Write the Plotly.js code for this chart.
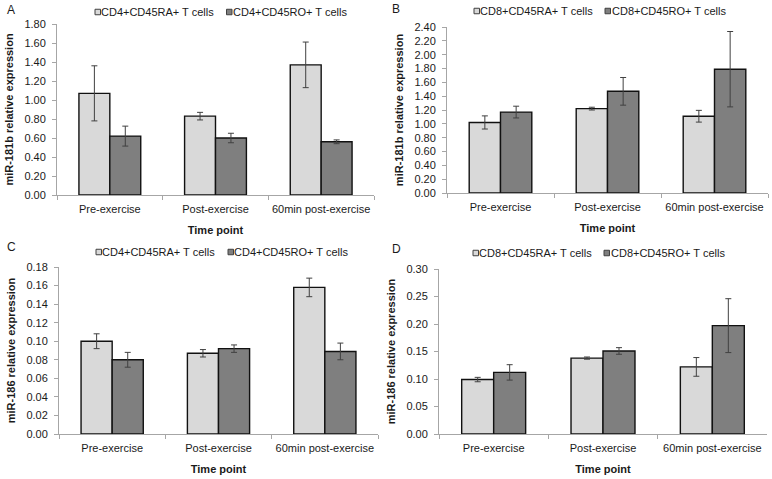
<!DOCTYPE html>
<html>
<head>
<meta charset="utf-8">
<script src="https://cdn.plot.ly/plotly-3.0.1.min.js"></script>
<style>html,body{margin:0;padding:0;background:#fff;}#chart{width:772px;height:479px;}</style>
</head>
<body>
<div id="chart"></div>
<script>
// ---- data ----
const timePoints = ["Pre-exercise", "Post-exercise", "60min post-exercise"];

// Panel A: miR-181b, CD4
const A_RA = [1.07, 0.83, 1.37];
const A_RA_err = [0.29, 0.04, 0.24];
const A_RO = [0.62, 0.60, 0.56];
const A_RO_err = [0.105, 0.05, 0.02];

// Panel B: miR-181b, CD8
const B_RA = [1.02, 1.22, 1.11];
const B_RA_err = [0.095, 0.02, 0.085];
const B_RO = [1.17, 1.47, 1.79];
const B_RO_err = [0.085, 0.20, 0.545];

// Panel C: miR-186, CD4
const C_RA = [0.100, 0.087, 0.158];
const C_RA_err = [0.008, 0.004, 0.010];
const C_RO = [0.080, 0.092, 0.089];
const C_RO_err = [0.008, 0.004, 0.009];

// Panel D: miR-186, CD8
const D_RA = [0.099, 0.138, 0.122];
const D_RA_err = [0.004, 0.002, 0.017];
const D_RO = [0.112, 0.151, 0.197];
const D_RO_err = [0.014, 0.006, 0.049];

const names = {
  cd4ra: "CD4+CD45RA+ T cells", cd4ro: "CD4+CD45RO+ T cells",
  cd8ra: "CD8+CD45RA+ T cells", cd8ro: "CD8+CD45RO+ T cells"
};

// ---- styling ----
const W = 772, H = 479;
const FONT = "Liberation Sans, Arial, sans-serif";
const TXT = "#1a1a1a";
const lightFill = "#d9d9d9", darkFill = "#7f7f7f";
const errColor = "#404040";

function bar(x, y, err, name, fill, xa, ya) {
  return {
    type: "bar", x: x, y: y, name: name, xaxis: xa, yaxis: ya, showlegend: false,
    marker: {color: fill, line: {color: "#111111", width: 1.4}},
    error_y: {type: "data", array: err, visible: true, color: errColor, thickness: 1, width: 3},
    hoverinfo: "x+y+name"
  };
}

const data = [
  bar(timePoints, A_RA, A_RA_err, names.cd4ra, lightFill, "x", "y"),
  bar(timePoints, A_RO, A_RO_err, names.cd4ro, darkFill, "x", "y"),
  bar(timePoints, B_RA, B_RA_err, names.cd8ra, lightFill, "x2", "y2"),
  bar(timePoints, B_RO, B_RO_err, names.cd8ro, darkFill, "x2", "y2"),
  bar(timePoints, C_RA, C_RA_err, names.cd4ra, lightFill, "x3", "y3"),
  bar(timePoints, C_RO, C_RO_err, names.cd4ro, darkFill, "x3", "y3"),
  bar(timePoints, D_RA, D_RA_err, names.cd8ra, lightFill, "x4", "y4"),
  bar(timePoints, D_RO, D_RO_err, names.cd8ro, darkFill, "x4", "y4")
];

// pixel boxes of plot areas: [left, right, bottom(zero), top]
const boxes = {
  A: [57, 374, 195, 24],
  B: [447, 768, 193, 27],
  C: [59, 378, 434, 267],
  D: [439, 767, 434, 269]
};
function xd(b) { return [b[0] / W, b[1] / W]; }
function yd(b) { return [1 - b[2] / H, 1 - b[3] / H]; }

function xaxis(b, anchor) {
  return {
    domain: xd(b), anchor: anchor, type: "category",
    showline: true, linecolor: "#a6a6a6", linewidth: 1,
    ticks: "outside", tickson: "boundaries", ticklen: 4, tickcolor: "#a6a6a6",
    tickangle: 0, automargin: false, ticklabelstandoff: 4,
    tickfont: {family: FONT, size: 11, color: TXT},
    showgrid: false, zeroline: false, fixedrange: true,
    title: {text: "<b>Time point</b>", font: {family: FONT, size: 11, color: TXT}, standoff: 12}
  };
}
function yaxis(b, anchor, max, dtick, title) {
  return {
    domain: yd(b), anchor: anchor, range: [0, max], dtick: dtick, tick0: 0, tickformat: ".2f",
    showline: true, linecolor: "#a6a6a6", linewidth: 1, automargin: false,
    ticks: "outside", ticklen: 4, tickcolor: "#a6a6a6", ticklabelstandoff: 4,
    tickfont: {family: FONT, size: 11, color: TXT},
    showgrid: false, zeroline: false, fixedrange: true,
    title: {text: "<b>" + title + "</b>", font: {family: FONT, size: 11, color: TXT}, standoff: 8}
  };
}

// legend keys drawn as small squares + text labels (Excel-style compact legend)
const shapes = [];
const annotations = [];
function legendItem(boxX, textX, yc, fill, label) {
  shapes.push({
    type: "rect", xref: "paper", yref: "paper",
    x0: boxX / W, x1: (boxX + 5.5) / W, y0: 1 - (yc + 2.75) / H, y1: 1 - (yc - 2.75) / H,
    fillcolor: fill, line: {color: "#404040", width: 1}
  });
  annotations.push({
    text: label, xref: "paper", yref: "paper", x: textX / W, y: 1 - yc / H,
    xanchor: "left", yanchor: "middle", showarrow: false, borderpad: 0,
    font: {family: FONT, size: 11, color: TXT}
  });
}
legendItem(95, 100, 12, lightFill, names.cd4ra);
legendItem(226.5, 231.5, 12, darkFill, names.cd4ro);
legendItem(474, 479, 11, lightFill, names.cd8ra);
legendItem(605, 610.5, 11, darkFill, names.cd8ro);
legendItem(96, 101, 252, lightFill, names.cd4ra);
legendItem(228, 233, 252, darkFill, names.cd4ro);
legendItem(473, 478, 253, lightFill, names.cd8ra);
legendItem(604, 609.5, 253, darkFill, names.cd8ro);

function panelLabel(t, x, y) {
  annotations.push({
    text: t, xref: "paper", yref: "paper", x: x / W, y: 1 - y / H,
    xanchor: "left", yanchor: "middle", showarrow: false,
    font: {family: FONT, size: 12, color: TXT}
  });
}
panelLabel("A", 5, 10);
panelLabel("B", 390, 9);
panelLabel("C", 5, 247);
panelLabel("D", 390, 249);

const layout = {
  width: W, height: H, margin: {l: 0, r: 0, t: 0, b: 0},
  paper_bgcolor: "#fff", plot_bgcolor: "#fff",
  barmode: "group", bargap: 0.415, bargroupgap: 0,
  showlegend: false,
  xaxis: xaxis(boxes.A, "y"),
  yaxis: yaxis(boxes.A, "x", 1.8, 0.2, "miR-181b relative expression"),
  xaxis2: xaxis(boxes.B, "y2"),
  yaxis2: yaxis(boxes.B, "x2", 2.4, 0.2, "miR-181b relative expression"),
  xaxis3: xaxis(boxes.C, "y3"),
  yaxis3: yaxis(boxes.C, "x3", 0.18, 0.02, "miR-186 relative expression"),
  xaxis4: xaxis(boxes.D, "y4"),
  yaxis4: yaxis(boxes.D, "x4", 0.30, 0.05, "miR-186 relative expression"),
  shapes: shapes,
  annotations: annotations
};

Plotly.newPlot("chart", data, layout, {displayModeBar: false, responsive: false});
</script>
</body>
</html>
